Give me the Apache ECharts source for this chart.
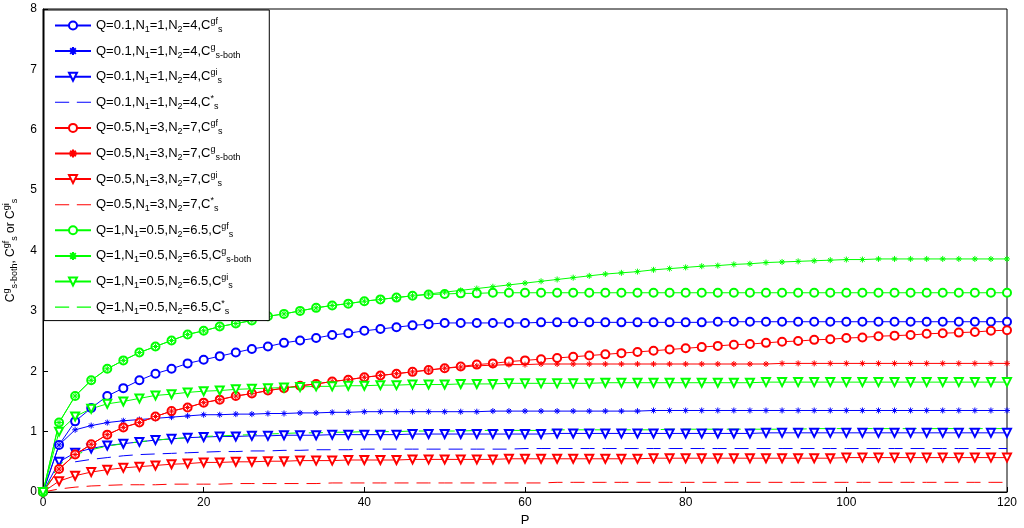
<!DOCTYPE html>
<html>
<head>
<meta charset="utf-8">
<script src="https://cdn.jsdelivr.net/npm/echarts@6/dist/echarts.min.js"></script>
<style>html,body{margin:0;padding:0;background:#fff}#chart{width:1024px;height:528px}</style>
</head>
<body>
<div id="chart"></div>
<script>
// P = 0, 2, 4, ... 120
var pValues = [];
for (var i = 0; i <= 120; i += 2) pValues.push(i);

var blueGf = [0,0.78,1.17,1.39,1.59,1.72,1.85,1.96,2.04,2.13,2.19,2.25,2.31,2.37,2.41,2.47,2.51,2.55,2.60,2.63,2.67,2.70,2.73,2.76,2.78,2.80,
  2.80,2.80,2.80,2.80,2.80,2.81,2.81,2.81,2.81,2.81,2.81,2.81,2.81,2.81,2.81,2.81,2.82,2.82,2.82,2.82,2.82,2.82,2.82,2.82,2.82,2.82,2.82,2.82,2.82,2.82,2.82,2.82,2.82,2.82,2.82];
var blueBoth = [0,0.78,1.03,1.10,1.15,1.18,1.20,1.22,1.24,1.26,1.28,1.28,1.29,1.29,1.30,1.30,1.31,1.31,1.32,1.32,1.33,1.33,1.33,1.33,1.33,1.33,
  1.33,1.33,1.34,1.34,1.34,1.34,1.34,1.34,1.34,1.34,1.34,1.34,1.35,1.35,1.35,1.35,1.35,1.35,1.35,1.35,1.35,1.35,1.35,1.35,1.35,1.35,1.35,1.35,1.35,1.35,1.35,1.35,1.35,1.35,1.35];
var blueGi = [0,0.50,0.65,0.72,0.77,0.80,0.83,0.86,0.88,0.90,0.91,0.92,0.92,0.93,0.93,0.94,0.94,0.94,0.95,0.95,0.95,0.95,0.95,0.96,0.96,0.96,
  0.96,0.96,0.96,0.96,0.96,0.96,0.97,0.97,0.97,0.97,0.97,0.97,0.97,0.97,0.97,0.97,0.97,0.97,0.97,0.98,0.98,0.98,0.98,0.98,0.98,0.98,0.98,0.98,0.98,0.98,0.98,0.98,0.98,0.98,0.98];
var blueStar = [null,null,0.50,0.54,0.57,0.60,0.62,0.63,0.64,0.65,0.66,0.67,0.67,0.68,0.68,0.69,0.69,0.70,0.70,0.70,0.71,0.71,0.71,0.71,0.71,0.71,
  0.71,0.71,0.71,0.71,0.72,0.72,0.72,0.72,0.72,0.72,0.72,0.72,0.72,0.72,0.72,0.72,0.72,0.72,0.72,0.72,0.72,0.72,0.72,0.72,0.72,0.72,0.72,0.72,0.72,0.72,0.72,0.72,0.72,0.72,0.72];
var redGf = [0,0.38,0.62,0.79,0.95,1.07,1.15,1.25,1.34,1.40,1.48,1.53,1.59,1.63,1.68,1.72,1.76,1.79,1.83,1.86,1.90,1.93,1.96,1.99,2.02,2.05,
  2.08,2.11,2.13,2.16,2.18,2.20,2.22,2.24,2.26,2.28,2.30,2.32,2.34,2.36,2.38,2.40,2.42,2.44,2.45,2.47,2.49,2.50,2.52,2.53,2.55,2.56,2.58,2.59,2.60,2.62,2.63,2.64,2.65,2.67,2.68];
var redBoth = [0,0.38,0.62,0.79,0.95,1.07,1.15,1.25,1.34,1.40,1.48,1.53,1.59,1.63,1.68,1.72,1.76,1.79,1.83,1.86,1.90,1.93,1.96,1.99,2.02,2.05,
  2.07,2.09,2.10,2.11,2.11,2.12,2.12,2.12,2.12,2.12,2.12,2.12,2.12,2.12,2.12,2.12,2.12,2.12,2.12,2.12,2.13,2.13,2.13,2.13,2.13,2.13,2.13,2.13,2.13,2.13,2.13,2.13,2.13,2.13,2.13];
var redGi = [0,0.18,0.27,0.33,0.37,0.40,0.42,0.44,0.46,0.47,0.49,0.49,0.50,0.50,0.51,0.51,0.52,0.52,0.52,0.53,0.53,0.53,0.53,0.54,0.54,0.54,
  0.54,0.54,0.54,0.55,0.55,0.55,0.55,0.55,0.55,0.55,0.55,0.55,0.56,0.56,0.56,0.56,0.56,0.56,0.56,0.56,0.56,0.56,0.56,0.56,0.57,0.57,0.57,0.57,0.57,0.57,0.57,0.57,0.57,0.57,0.57];
var redStar = [0,0.05,0.08,0.10,0.11,0.12,0.12,0.12,0.13,0.13,0.13,0.13,0.14,0.14,0.14,0.14,0.14,0.14,0.15,0.15,0.15,0.15,0.15,0.15,0.15,0.15,
  0.15,0.15,0.15,0.15,0.15,0.15,0.16,0.16,0.16,0.16,0.16,0.16,0.16,0.16,0.16,0.16,0.16,0.16,0.16,0.16,0.16,0.16,0.16,0.16,0.16,0.16,0.16,0.16,0.16,0.16,0.16,0.16,0.16,0.16,0.16];
var greenGf = [0,1.15,1.59,1.85,2.04,2.18,2.31,2.41,2.51,2.61,2.67,2.74,2.79,2.84,2.91,2.95,3.00,3.05,3.09,3.12,3.16,3.19,3.22,3.25,3.27,3.28,
  3.29,3.29,3.30,3.30,3.30,3.30,3.30,3.30,3.30,3.30,3.30,3.30,3.30,3.30,3.30,3.30,3.30,3.30,3.30,3.30,3.30,3.30,3.30,3.30,3.30,3.30,3.30,3.30,3.30,3.30,3.30,3.30,3.30,3.30,3.30];
var greenBoth = [0,1.15,1.59,1.85,2.04,2.18,2.31,2.41,2.51,2.61,2.67,2.74,2.79,2.84,2.91,2.95,3.00,3.05,3.09,3.12,3.16,3.19,3.22,3.25,3.28,3.31,
  3.34,3.37,3.40,3.43,3.46,3.49,3.52,3.55,3.58,3.61,3.63,3.65,3.68,3.70,3.72,3.74,3.75,3.77,3.78,3.80,3.81,3.82,3.83,3.84,3.85,3.85,3.86,3.86,3.86,3.86,3.86,3.86,3.86,3.86,3.86];
var greenGi = [0,1.00,1.25,1.38,1.46,1.50,1.55,1.60,1.62,1.65,1.67,1.68,1.70,1.71,1.72,1.73,1.74,1.75,1.75,1.76,1.76,1.77,1.77,1.78,1.78,1.78,
  1.79,1.79,1.79,1.80,1.80,1.80,1.80,1.80,1.80,1.81,1.81,1.81,1.81,1.81,1.81,1.81,1.81,1.81,1.81,1.82,1.82,1.82,1.82,1.82,1.82,1.82,1.82,1.82,1.82,1.82,1.82,1.82,1.82,1.82,1.82];
var greenStar = [0,0.45,0.62,0.70,0.76,0.80,0.83,0.86,0.88,0.90,0.92,0.93,0.94,0.95,0.96,0.97,0.98,0.98,0.99,0.99,1.00,1.00,1.00,1.01,1.01,1.01,
  1.01,1.02,1.02,1.02,1.02,1.02,1.03,1.03,1.03,1.03,1.03,1.03,1.03,1.04,1.04,1.04,1.04,1.04,1.04,1.04,1.04,1.04,1.05,1.05,1.05,1.05,1.05,1.05,1.05,1.05,1.05,1.05,1.05,1.05,1.05];

var BLUE = '#0000ff', RED = '#ff0000', GREEN = '#00ff00';
var STAR = 'path://M5,0L5,10M0,5L10,5M1.5,1.5L8.5,8.5M8.5,1.5L1.5,8.5';
var DASH_ICON = 'path://M0,4.5L13,4.5L13,5.5L0,5.5ZM20,4.5L33,4.5L33,5.5L20,5.5Z';

function zip(ys) {
	return pValues.map(function(p, i){ return [p, ys[i]]; });
}
function mk(name, color, ys, kind) {
	var s = {
		name: name, type: 'line', data: zip(ys), color: color,
		lineStyle: {width: 1, color: color},
		itemStyle: {color: color, borderColor: color, borderWidth: 1},
		showSymbol: true, symbolSize: 7, animation: false, connectNulls: false
	};
	if (kind == 'gf') { s.symbol = 'emptyCircle'; s.symbolSize = 8; }
	else if (kind == 'both') { s.symbol = STAR; s.symbolSize = 6; s.itemStyle = {color: 'none', borderColor: color, borderWidth: 1}; }
	else if (kind == 'gi') { s.symbol = 'emptyTriangle'; s.symbolRotate = 180; s.symbolSize = 8; }
	else { s.symbol = 'none'; s.showSymbol = false; s.lineStyle.type = [14, 8]; }
	return s;
}

var names = [
	['Q=0.1,N{sub|1}=1,N{sub|2}=4,C{sp|gf}{sb|s}', BLUE, blueGf, 'gf'],
	['Q=0.1,N{sub|1}=1,N{sub|2}=4,C{sp|g}{sb|s-both}', BLUE, blueBoth, 'both'],
	['Q=0.1,N{sub|1}=1,N{sub|2}=4,C{sp|gi}{sb|s}', BLUE, blueGi, 'gi'],
	['Q=0.1,N{sub|1}=1,N{sub|2}=4,C{sp|*}{sb|s}', BLUE, blueStar, 'star'],
	['Q=0.5,N{sub|1}=3,N{sub|2}=7,C{sp|gf}{sb|s}', RED, redGf, 'gf'],
	['Q=0.5,N{sub|1}=3,N{sub|2}=7,C{sp|g}{sb|s-both}', RED, redBoth, 'both'],
	['Q=0.5,N{sub|1}=3,N{sub|2}=7,C{sp|gi}{sb|s}', RED, redGi, 'gi'],
	['Q=0.5,N{sub|1}=3,N{sub|2}=7,C{sp|*}{sb|s}', RED, redStar, 'star'],
	['Q=1,N{sub|1}=0.5,N{sub|2}=6.5,C{sp|gf}{sb|s}', GREEN, greenGf, 'gf'],
	['Q=1,N{sub|1}=0.5,N{sub|2}=6.5,C{sp|g}{sb|s-both}', GREEN, greenBoth, 'both'],
	['Q=1,N{sub|1}=0.5,N{sub|2}=6.5,C{sp|gi}{sb|s}', GREEN, greenGi, 'gi'],
	['Q=1,N{sub|1}=0.5,N{sub|2}=6.5,C{sp|*}{sb|s}', GREEN, greenStar, 'star']
];
var series = names.map(function(n){ return mk(n[0], n[1], n[2], n[3]); });
var legendData = names.map(function(n){
	var d = {name: n[0]};
	if (n[3] == 'star') { d.icon = DASH_ICON; d.itemStyle = {color: n[1], borderWidth: 0}; }
	return d;
});

var font = 'Liberation Sans, Arial, sans-serif';
var chart = echarts.init(document.getElementById('chart'));
chart.setOption({
	backgroundColor: '#fff',
	animation: false,
	textStyle: {fontFamily: font},
	grid: {left: 43, right: 17, top: 9, bottom: 36, containLabel: false, outerBoundsMode: 'none',
		show: true, borderColor: '#000', borderWidth: 1},
	legend: {
		left: 44, top: 10, orient: 'vertical', itemGap: 8.6, itemWidth: 36, itemHeight: 10,
		backgroundColor: '#fff', borderColor: '#000', borderWidth: 1, padding: [7, 18, 5, 10],
		data: legendData,
		textStyle: {
			fontSize: 13, color: '#000', fontFamily: font,
			rich: {
				sub: {fontSize: 9, verticalAlign: 'bottom', padding: [8, 0, 0, 0]},
				sp: {fontSize: 9, verticalAlign: 'top', padding: [0, 0, 8, 0]},
				sb: {fontSize: 9, verticalAlign: 'bottom', padding: [8, 0, 0, 0]}
			}
		}
	},
	xAxis: {
		type: 'value', min: 0, max: 120, interval: 20, name: 'P', nameLocation: 'middle', nameGap: 22,
		nameTextStyle: {fontSize: 13, color: '#000'},
		axisLine: {lineStyle: {color: '#000'}}, axisTick: {inside: true, length: 5, lineStyle: {color: '#000'}},
		axisLabel: {color: '#000', fontSize: 12, margin: 5}, splitLine: {show: false}
	},
	yAxis: {
		type: 'value', min: 0, max: 8, interval: 1,
		name: 'C{sp|g}{sb|s-both}, C{sp|gf}{sb|s} or C{sp|gi}{sb|s}', nameLocation: 'middle', nameGap: 22, nameRotate: 90,
		nameTextStyle: {fontSize: 12, color: '#000', rich: {
			sp: {fontSize: 9, verticalAlign: 'top', padding: [0, 0, 8, 0]},
			sb: {fontSize: 9, verticalAlign: 'bottom', padding: [8, 0, 0, 0]}
		}},
		axisLine: {lineStyle: {color: '#000'}}, axisTick: {inside: true, length: 5, lineStyle: {color: '#000'}},
		axisLabel: {color: '#000', fontSize: 12, margin: 6}, splitLine: {show: false}
	},
	series: series
});
</script>
</body>
</html>
